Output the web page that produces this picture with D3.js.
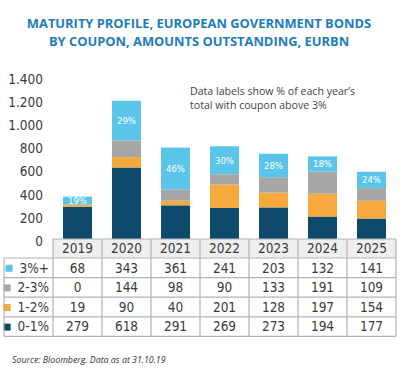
<!DOCTYPE html>
<html><head><meta charset="utf-8">
<script src="https://cdn.jsdelivr.net/npm/d3@7"></script>
<style>
html,body{margin:0;padding:0;background:#fff;}
svg{display:block;}
</style></head>
<body><div id="chart"></div>
<script>
const years = ["2019","2020","2021","2022","2023","2024","2025"];
const seriesNames = ["3%+","2-3%","1-2%","0-1%"];
const above3 = [68,343,361,241,203,132,141];
const c2to3 = [0,144,98,90,133,191,109];
const c1to2 = [19,90,40,201,128,197,154];
const c0to1 = [279,618,291,269,273,194,177];
const pctLabels = ["19%","29%","46%","30%","28%","18%","24%"];
const yTicks = [0,200,400,600,800,1000,1200,1400];
const colors = {"3%+":"#5bc4e9","2-3%":"#a6a6a6","1-2%":"#f6a93c","0-1%":"#0d4a6c"};

(function(){
const W=400,H=376;
const svg=d3.select("#chart").append("svg").attr("width",W).attr("height",H);
const narrow="'Liberation Sans Narrow','DejaVu Sans Condensed',sans-serif";
const open="'Open Sans','Noto Sans',sans-serif";
const txt="#3a3a3a";

// title
[["MATURITY PROFILE, EUROPEAN GOVERNMENT BONDS",28],["BY COUPON, AMOUNTS OUTSTANDING, EURBN",45.5]].forEach(([t,yy])=>{
  svg.append("text").attr("x",199).attr("y",yy).attr("text-anchor","middle")
    .attr("font-family",open).attr("font-weight","bold").attr("font-size",12.9).attr("fill","#1b7cc0")
    .text(t);
});

const x=d3.scaleBand().domain(years).range([53,396]).paddingInner(0).paddingOuter(0);
const bw=29;
const y=d3.scaleLinear().domain([0,1400]).range([239,77]);

const data=years.map((yr,i)=>({year:yr,"0-1%":c0to1[i],"1-2%":c1to2[i],"2-3%":c2to3[i],"3%+":above3[i]}));
const stack=d3.stack().keys(["0-1%","1-2%","2-3%","3%+"])(data);

svg.append("g").selectAll("g").data(stack).join("g").attr("fill",d=>colors[d.key])
  .selectAll("rect").data(d=>d).join("rect")
  .attr("x",d=>x(d.data.year)+(x.bandwidth()-bw)/2)
  .attr("width",bw)
  .attr("y",d=>y(d[1]))
  .attr("height",d=>y(d[0])-y(d[1]));

// pct labels
const topSeries=stack[3];
svg.append("g").selectAll("text").data(topSeries).join("text")
  .attr("x",d=>x(d.data.year)+x.bandwidth()/2)
  .attr("y",d=>(y(d[0])+y(d[1]))/2)
  .attr("dy","0.35em").attr("text-anchor","middle")
  .attr("font-family",narrow).attr("font-size",9.5).attr("fill","#fff")
  .text((d,i)=>pctLabels[i]);

// y axis
const yAxis=d3.axisLeft(y).tickValues(yTicks).tickSize(0).tickPadding(0)
  .tickFormat(d=>d3.format(",")(d).replace(/,/g,"."));
const ga=svg.append("g").attr("transform","translate(43,2)").call(yAxis);
ga.select(".domain").remove();
ga.selectAll("text").attr("font-family",narrow).attr("font-size",13.5).attr("fill",txt);

// annotation
svg.append("text").attr("x",190).attr("y",95).attr("font-family",open).attr("font-size",10.6).attr("fill","#444")
  .text("Data labels show % of each year\u2019s");
svg.append("text").attr("x",190).attr("y",108.5).attr("font-family",open).attr("font-size",10.6).attr("fill","#444")
  .text("total with coupon above 3%");

// table
const tTop=239, hRow=19, rH=19.6, tLeft=4, border="#b3b3b3";
const tbl=svg.append("g");
tbl.append("rect").attr("x",53).attr("y",tTop).attr("width",343).attr("height",hRow).attr("fill","#efefef");
tbl.selectAll("text.hdr").data(years).join("text").attr("class","hdr")
  .attr("x",d=>x(d)+x.bandwidth()/2).attr("y",tTop+hRow/2).attr("dy","0.36em")
  .attr("text-anchor","middle").attr("font-family",narrow).attr("font-size",13.5).attr("fill",txt).text(d=>d);
const rows=[above3,c2to3,c1to2,c0to1];
rows.forEach((vals,ri)=>{
  const cy=tTop+hRow+rH*ri+rH/2;
  tbl.selectAll("text.r"+ri).data(vals).join("text").attr("class","r"+ri)
    .attr("x",(d,i)=>x(years[i])+x.bandwidth()/2).attr("y",cy).attr("dy","0.36em")
    .attr("text-anchor","middle").attr("font-family",narrow).attr("font-size",13.5).attr("fill",txt).text(d=>d);
  const lt=tbl.append("text").attr("x",49).attr("y",cy).attr("dy","0.36em").attr("text-anchor","end")
    .attr("font-family",narrow).attr("font-size",13.5).attr("fill",txt).text(seriesNames[ri]);
  const w=lt.node().getComputedTextLength();
  tbl.append("rect").attr("x",49-w-14).attr("y",cy-3).attr("width",7).attr("height",7).attr("fill",colors[seriesNames[ri]]);
});
const bottom=tTop+hRow+rH*4;
const hl=[tTop,tTop+hRow];
for(let k=1;k<=4;k++) hl.push(tTop+hRow+rH*k);
hl.forEach((yy,k)=>{
  tbl.append("line").attr("x1",k===0?53:tLeft).attr("x2",396).attr("y1",yy).attr("y2",yy)
    .attr("stroke",border).attr("stroke-width",1.2);
});
tbl.append("line").attr("x1",tLeft).attr("x2",tLeft).attr("y1",tTop+hRow).attr("y2",bottom).attr("stroke",border).attr("stroke-width",1.2);
years.forEach(yr=>{
  tbl.append("line").attr("x1",x(yr)).attr("x2",x(yr)).attr("y1",tTop).attr("y2",bottom).attr("stroke",border).attr("stroke-width",1.2);
});
tbl.append("line").attr("x1",396).attr("x2",396).attr("y1",tTop).attr("y2",bottom).attr("stroke",border).attr("stroke-width",1.2);

svg.append("text").attr("x",12).attr("y",363).attr("font-family",open).attr("font-style","italic")
  .attr("font-size",8.8).attr("fill","#333").text("Source: Bloomberg. Data as at 31.10.19");
})();
</script></body></html>
